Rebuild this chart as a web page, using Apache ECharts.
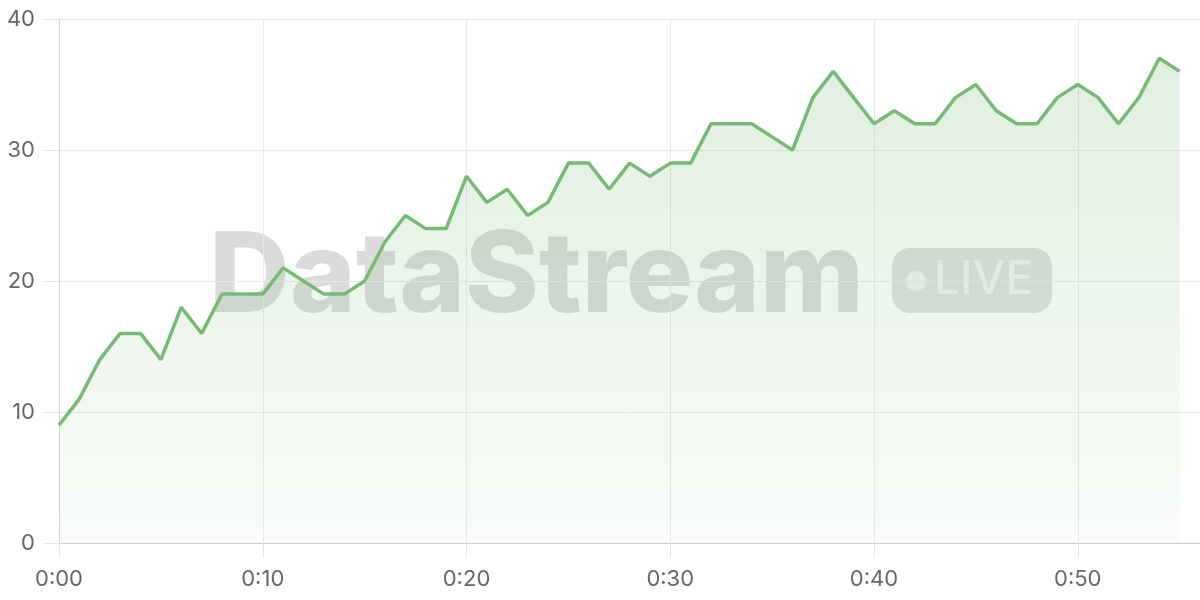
<!DOCTYPE html>
<html>
<head>
<meta charset="utf-8">
<script src="https://cdn.jsdelivr.net/npm/echarts@6/dist/echarts.min.js"></script>
<style>
html,body{margin:0;padding:0;background:#fff;}
#chart{width:1200px;height:600px;}
</style>
</head>
<body>
<div id="chart"></div>
<script>
const minutes = [0,1,2,3,4,5,6,7,8,9,10,11,12,13,14,15,16,17,18,19,20,21,22,23,24,25,26,27,28,29,30,31,32,33,34,35,36,37,38,39,40,41,42,43,44,45,46,47,48,49,50,51,52,53,54,55];
const values = [9,11,14,16,16,14,18,16,19,19,19,21,20,19,19,20,23,25,24,24,28,26,27,25,26,29,29,27,29,28,29,29,32,32,32,31,30,34,36,34,32,33,32,32,34,35,33,32,32,34,35,34,32,34,37,36];
const yTicks = [0,10,20,30,40];
const xTickMinutes = [0,10,20,30,40,50];
const watermarkText = 'DataStream';
const badgeText = 'LIVE';

const chart = echarts.init(document.getElementById('chart'));
const lineColor = '#76ba75';
const fontFamily = 'Inter, "Noto Sans", sans-serif';

function fmtMin(v){
  const m = Math.round(v);
  const h = Math.floor(m/60);
  const mm = m % 60;
  return h + ':' + (mm < 10 ? '0' + mm : mm);
}

chart.setOption({
  animation: false,
  grid: {left: 59, right: 0, top: 19, bottom: 57},
  graphic: [
    {type: 'text', z: -10, left: 209, top: 222,
     style: {text: watermarkText, font: '800 112px ' + fontFamily, fill: 'rgba(0,0,0,0.14)'}},
    {type: 'rect', z: -10, shape: {x: 892, y: 248, width: 160, height: 65, r: 18},
     style: {fill: 'rgba(0,0,0,0.12)'}},
    {type: 'circle', z: -9, shape: {cx: 916, cy: 281, r: 10},
     style: {fill: 'rgba(255,255,255,0.6)'}},
    {type: 'text', z: -9, left: 934, top: 257,
     style: {text: badgeText, font: '500 46px ' + fontFamily, fill: 'rgba(255,255,255,0.6)'}}
  ],
  xAxis: {
    type: 'value', min: 0, max: 56, interval: 10,
    axisLine: {show: true, lineStyle: {color: '#cccccc'}},
    axisTick: {show: true, length: 15, lineStyle: {color: '#e6e6e6'}},
    axisLabel: {
      color: '#666', fontSize: 22, fontFamily: fontFamily, margin: 25,
      showMaxLabel: false,
      formatter: function(v){ return xTickMinutes.indexOf(v) >= 0 ? fmtMin(v) : ''; }
    },
    splitLine: {show: true, lineStyle: {color: '#e9e9e9'}}
  },
  yAxis: {
    type: 'value', min: yTicks[0], max: yTicks[yTicks.length-1], interval: 10,
    axisLine: {show: true, lineStyle: {color: '#d6d6d6'}},
    axisTick: {show: true, length: 15, lineStyle: {color: '#e6e6e6'}},
    axisLabel: {color: '#666', fontSize: 22, fontFamily: fontFamily, margin: 24},
    splitLine: {show: true, lineStyle: {color: '#e9e9e9'}}
  },
  series: [{
    type: 'line',
    data: minutes.map((m, i) => [m, values[i]]),
    showSymbol: false,
    symbol: 'none',
    lineStyle: {color: lineColor, width: 3.5},
    itemStyle: {color: lineColor},
    areaStyle: {
      color: new echarts.graphic.LinearGradient(0, 0, 0, 1, [
        {offset: 0, color: 'rgba(118,186,117,0.33)'},
        {offset: 1, color: 'rgba(118,186,117,0.06)'}
      ])
    }
  }]
});
</script>
</body>
</html>
